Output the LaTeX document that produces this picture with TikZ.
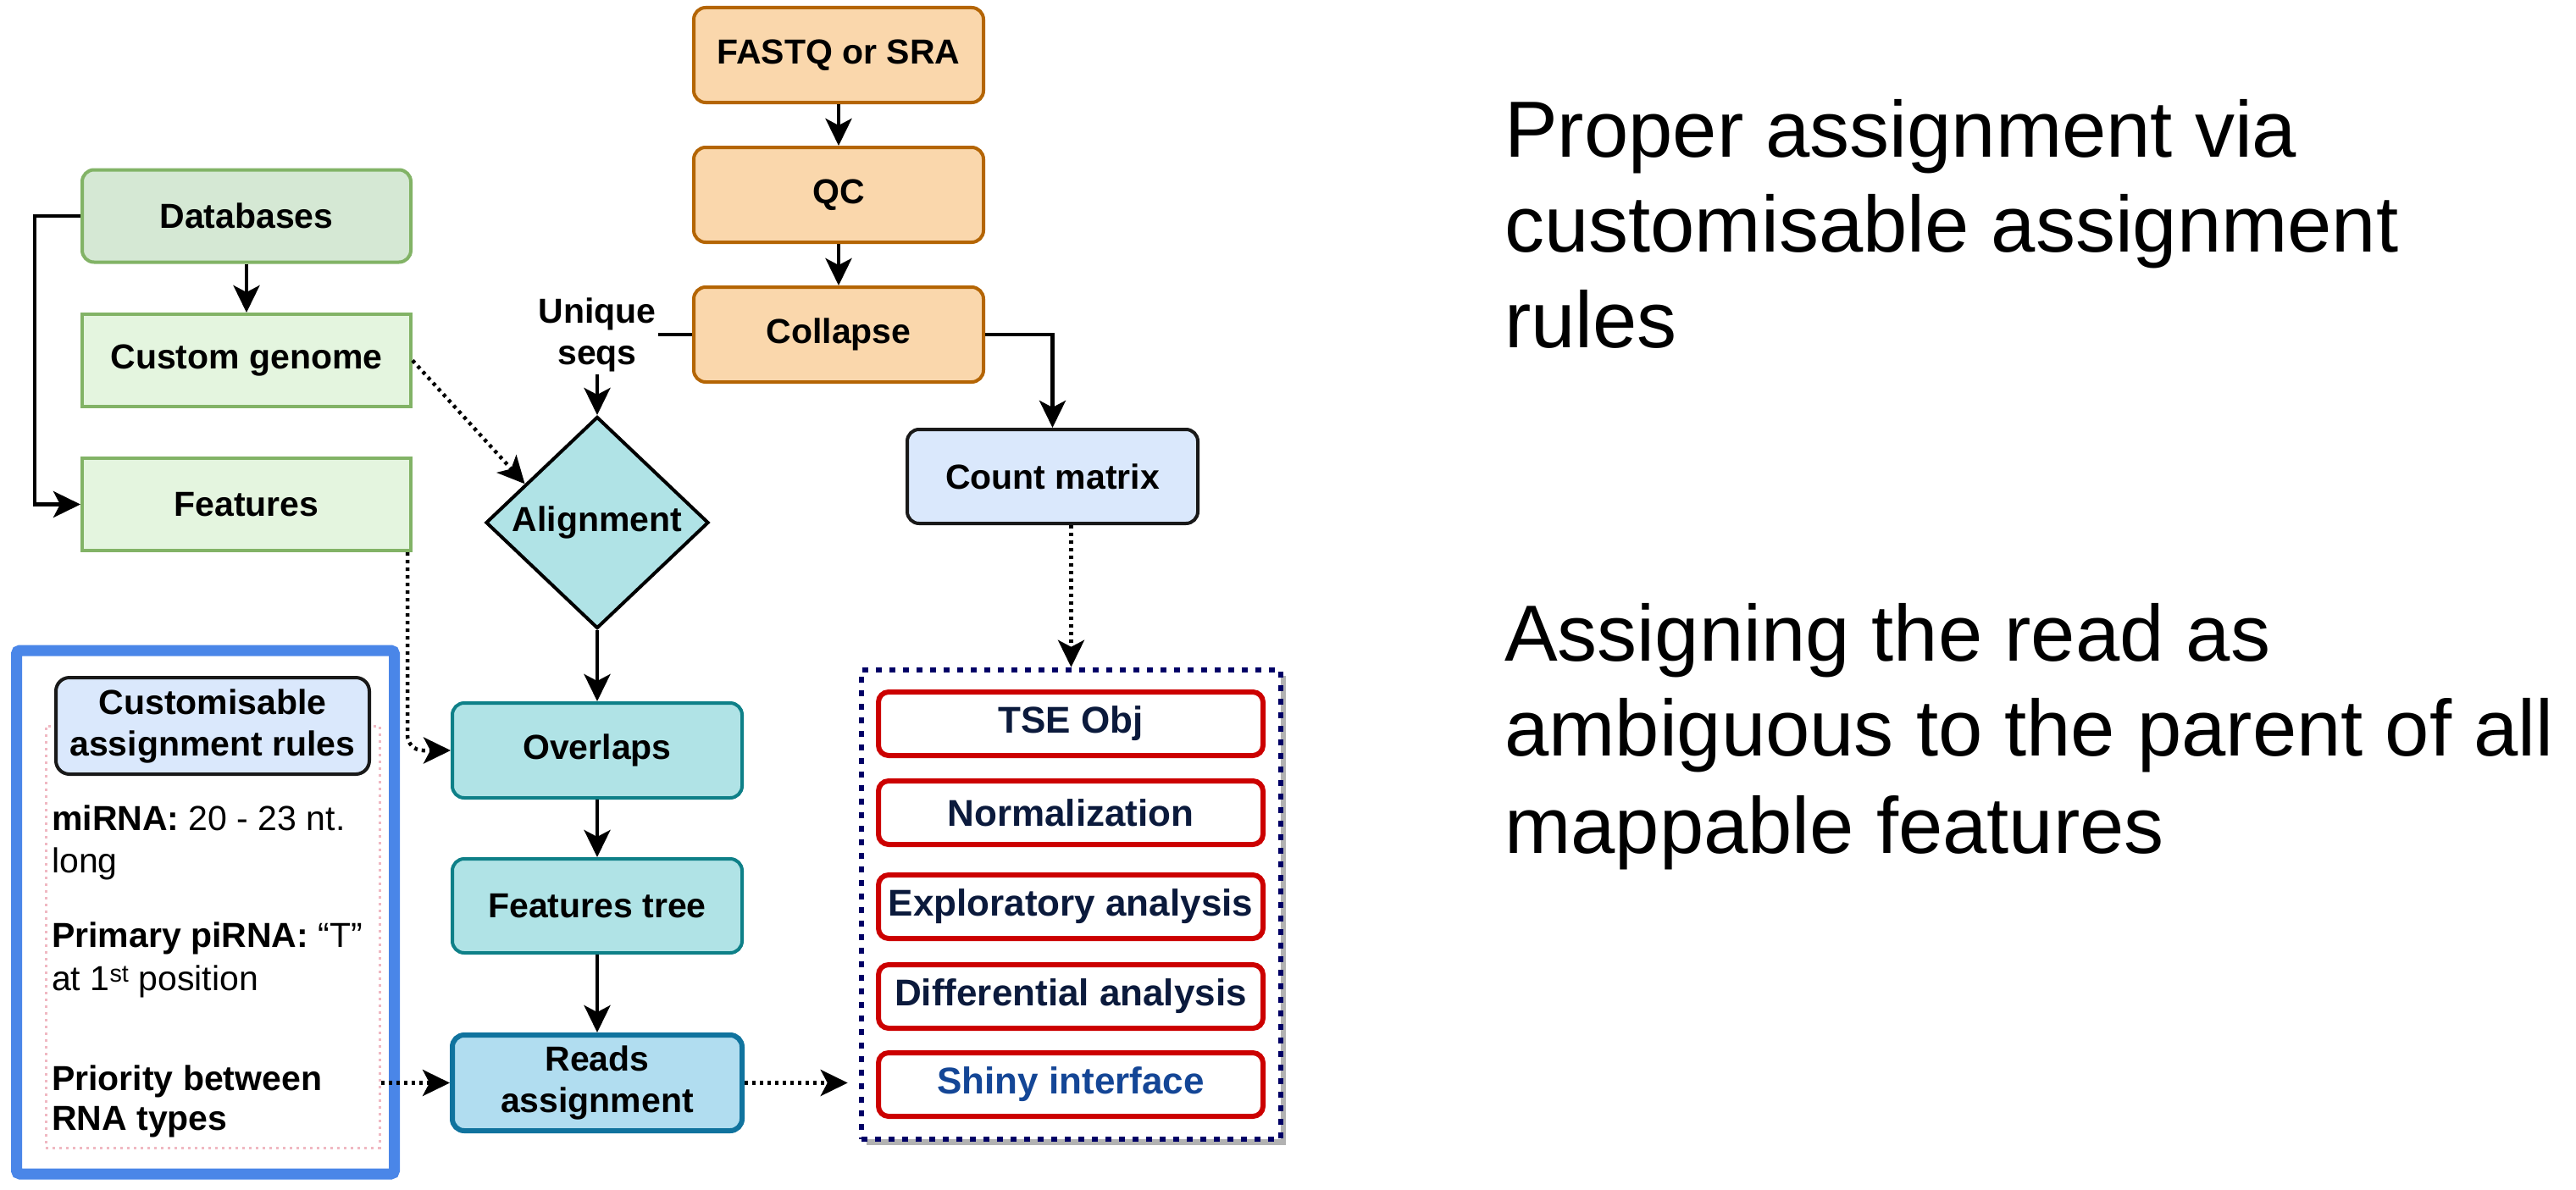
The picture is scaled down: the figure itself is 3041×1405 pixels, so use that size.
\documentclass[tikz,border=0pt]{standalone}
\usepackage{fontspec}
\setmainfont{Liberation Sans}
\usetikzlibrary{arrows.meta,calc,shapes.geometric,shadows}
\definecolor{dbF}{HTML}{D5E8D4}
\definecolor{cgF}{HTML}{E4F5DF}
\definecolor{grnS}{HTML}{82B366}
\definecolor{orgF}{HTML}{FAD7AC}
\definecolor{orgS}{HTML}{B46504}
\definecolor{tealF}{HTML}{B0E3E6}
\definecolor{tealS}{HTML}{0E8088}
\definecolor{raF}{HTML}{B1DDF0}
\definecolor{raS}{HTML}{10739E}
\definecolor{cmF}{HTML}{DAE8FC}
\definecolor{navyS}{HTML}{000066}
\definecolor{redS}{HTML}{CC0000}
\definecolor{itemT}{HTML}{0B1A3C}
\definecolor{shinyT}{HTML}{144696}
\definecolor{frameB}{HTML}{4A86E8}
\definecolor{pinkS}{HTML}{F0B8C2}
\tikzset{
  boxfont/.style={font=\bfseries\fontsize{41pt}{49pt}\selectfont},
  base/.style={draw, line width=4pt, align=center, boxfont, inner sep=0pt,
    minimum width=342pt, minimum height=112pt},
  grnbox/.style={base, draw=grnS, fill=cgF, minimum width=388pt, minimum height=109pt},
  orgbox/.style={base, rounded corners=14pt, draw=orgS, fill=orgF},
  tealbox/.style={base, rounded corners=14pt, draw=tealS, fill=tealF},
  arr/.style={line width=4.5pt, -{Stealth[length=32pt,width=31pt,inset=8pt]}},
  dotarr/.style={arr, dash pattern=on 4pt off 5pt},
  itembox/.style={draw=redS, line width=6pt, rounded corners=12pt, fill=white,
    minimum width=454pt, minimum height=75pt, inner sep=0pt,
    font=\bfseries\fontsize{44pt}{50pt}\selectfont, text=itemT},
  ruletext/.style={anchor=base west, inner sep=0pt, font=\fontsize{41pt}{50pt}\selectfont},
  bigtext/.style={anchor=base west, inner sep=0pt, font=\fontsize{94pt}{112pt}\selectfont}
}
\begin{document}
\begin{tikzpicture}[x=1pt,y=-1pt]
\useasboundingbox (0,0) rectangle (3041,1405);
\fill[white] (0,0) rectangle (3041,1405);

% left column
\node[grnbox, rounded corners=14pt, fill=dbF] (db) at (291,255) {Databases};
\node[grnbox] (cg) at (291,425.5) {Custom genome};
\node[grnbox] (feat) at (291,595.5) {Features};

% main column
\node[orgbox] (fq) at (990,65) {FASTQ or SRA};
\node[orgbox] (qc) at (990,230) {QC};
\node[orgbox] (col) at (990,395) {Collapse};
\node[diamond, draw, line width=4pt, fill=tealF, boxfont, inner sep=0pt, aspect=1.05,
  minimum width=263pt, minimum height=250pt] (al) at (705,617) {Alignment};
\node[tealbox] (ov) at (705,886) {Overlaps};
\node[tealbox, minimum height=111pt] (ft) at (705,1069.5) {Features tree};
\node[base, rounded corners=14pt, draw=raS, fill=raF, line width=6pt, minimum height=113pt] (ra) at (705,1278.5) {Reads\\assignment};

% count matrix and panel
\node[base, rounded corners=14pt, draw=black!90, fill=cmF, minimum width=343pt, minimum height=111pt] (cm) at (1242.5,562.5) {Count matrix};
\node[draw=navyS, line width=6.5pt, dash pattern=on 7pt off 9pt, fill=white,
  drop shadow={shadow xshift=6pt, shadow yshift=-7pt, fill=black!30, opacity=1},
  minimum width=495pt, minimum height=554pt, inner sep=0pt] (panel) at (1264.5,1068) {};
\node[itembox] (tse) at (1264,854.5) {TSE Obj};
\node[itembox] (norm) at (1264,959.5) {Normalization};
\node[itembox] (expl) at (1264,1070.5) {Exploratory analysis};
\node[itembox] (diff) at (1264,1176.5) {Differential analysis};
\node[itembox, text=shinyT] (shiny) at (1264,1280.5) {Shiny interface};

% rules frame
\node[draw=frameB, line width=13pt, rounded corners=4pt, minimum width=446pt, minimum height=618pt, inner sep=0pt] (frame) at (242.5,1077) {};
\node[draw=pinkS, line width=3pt, dash pattern=on 3pt off 5pt, minimum width=394pt, minimum height=498pt, inner sep=0pt] (pink) at (251,1106) {};
\node[base, rounded corners=16pt, draw=black!90, fill=cmF, minimum width=370pt, minimum height=114pt] (rules) at (251,857) {Customisable\\assignment rules};
\node[ruletext] (r1a) at (61,980) {\textbf{miRNA:} 20 - 23 nt.};
\node[ruletext] (r1b) at (61,1030) {long};
\node[ruletext] (r2a) at (61,1118) {\textbf{Primary piRNA:} “T”};
\node[ruletext] (r2b) at (61,1169) {at 1\textsuperscript{st} position};
\node[ruletext, font=\bfseries\fontsize{41pt}{50pt}\selectfont] (r3a) at (61,1287) {Priority between};
\node[ruletext, font=\bfseries\fontsize{41pt}{50pt}\selectfont] (r3b) at (61,1334) {RNA types};

% right texts
\node[bigtext] (t1) at (1776,185) {Proper assignment via};
\node[bigtext] (t2) at (1776,297) {customisable assignment};
\node[bigtext] (t3) at (1776,410) {rules};
\node[bigtext] (t4) at (1776,780) {Assigning the read as};
\node[bigtext] (t5) at (1776,892) {ambiguous to the parent of all};
\node[bigtext] (t6) at (1776,1007) {mappable features};

% connectors
\draw[arr] (db.west) -- ++(-54,0) |- (feat.west);
\draw[arr] (db) -- (cg);
\draw[arr] (fq) -- (qc);
\draw[arr] (qc) -- (col);
\draw[arr] (col.west) -| (al.north)
  node[pos=0.5, fill=white, boxfont, align=center, inner sep=3pt] (uniq) {Unique\\seqs};
\draw[arr] (col.east) -| (cm.north);
\draw[dotarr] (cg.east) -- ($(al.west)!0.36!(al.north)$);
\draw[dotarr, rounded corners=18pt] ([xshift=-6pt]feat.south east) |- (ov.west);
\draw[arr] (al.south) -- (ov.north);
\draw[arr] (ov) -- (ft);
\draw[arr] (ft) -- (ra);
\draw[dotarr] (panel.north |- cm.south) -- (panel.north);
\draw[dotarr, shorten >=13pt] (ra.east) -- (ra.east -| panel.west);
\draw[dotarr] (pink.east |- ra.west) -- (ra.west);
\end{tikzpicture}
\end{document}
